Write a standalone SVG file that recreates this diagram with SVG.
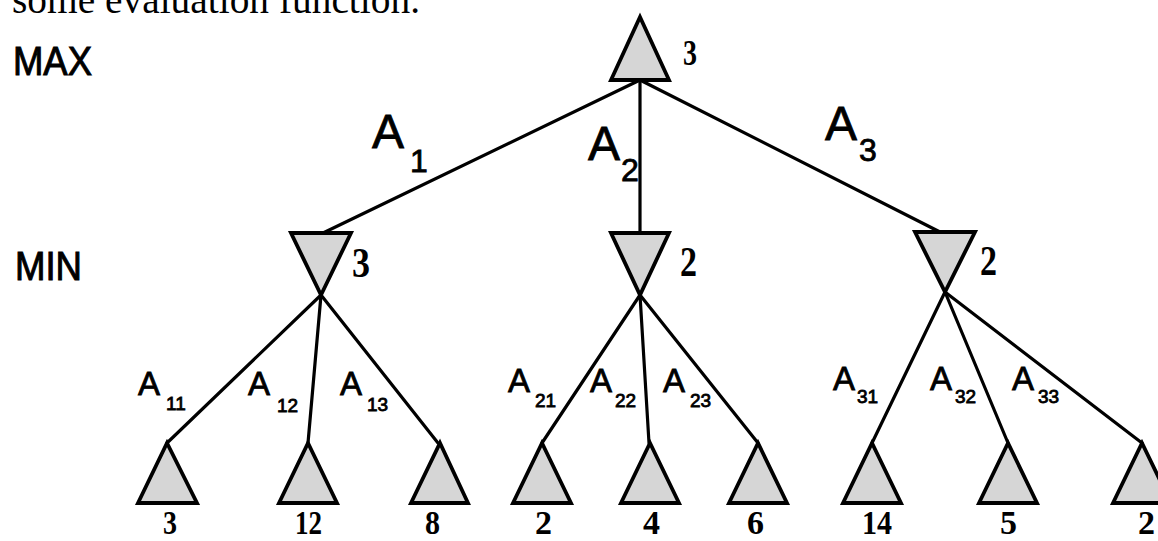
<svg xmlns="http://www.w3.org/2000/svg" width="1158" height="541" viewBox="0 0 1158 541">
<style>
.tri{fill:#d6d6d6;stroke:#000;stroke-width:3.8;stroke-linejoin:miter}
.edge{stroke:#000;stroke-width:3.2;fill:none;stroke-linecap:round}
.lvl{font-family:"Liberation Sans",Arial,sans-serif;font-size:40px;fill:#000;stroke:#000;stroke-width:1}
.val{font-family:"Liberation Serif","Times New Roman",serif;font-weight:bold;fill:#000}
.a{font-family:"Liberation Sans",Arial,sans-serif;fill:#000;stroke:#000;stroke-width:0.8}
.big{font-size:48px}
.bigsub{font-size:32px}
.sm{font-size:33px}
.smsub{font-size:19px}
.top{font-family:"Liberation Serif","Times New Roman",serif;font-size:39px;fill:#000}
</style>
<rect width="1158" height="541" fill="#fff"/>
<text class="top" x="12" y="13" textLength="408" lengthAdjust="spacingAndGlyphs">some evaluation function.</text>
<text class="lvl" x="13" y="75" textLength="79" lengthAdjust="spacingAndGlyphs">MAX</text>
<text class="lvl" x="15" y="280" textLength="67" lengthAdjust="spacingAndGlyphs">MIN</text>
<g id="connectors">
<line class="edge" x1="640" y1="80" x2="323" y2="233"/>
<line class="edge" x1="640" y1="80" x2="640" y2="233"/>
<line class="edge" x1="640" y1="80" x2="940" y2="232"/>
<line class="edge" x1="321" y1="295" x2="167" y2="443"/>
<line class="edge" x1="321" y1="295" x2="308" y2="443"/>
<line class="edge" x1="321" y1="295" x2="438" y2="443"/>
<line class="edge" x1="640" y1="295" x2="542" y2="443"/>
<line class="edge" x1="640" y1="295" x2="649" y2="443"/>
<line class="edge" x1="640" y1="295" x2="758" y2="443"/>
<line class="edge" x1="945" y1="292" x2="872" y2="443"/>
<line class="edge" x1="945" y1="292" x2="1008" y2="443"/>
<line class="edge" x1="945" y1="292" x2="1142" y2="443"/>
<text class="a big" x="372" y="148">A</text><text class="a bigsub" x="410" y="172">1</text>
<text class="a big" x="588" y="160">A</text><text class="a bigsub" x="621" y="181">2</text>
<text class="a big" x="825" y="140">A</text><text class="a bigsub" x="859" y="161">3</text>
<text class="a sm" x="138" y="395">A</text><text class="a smsub" x="166" y="410">11</text>
<text class="a sm" x="248" y="395">A</text><text class="a smsub" x="277" y="412">12</text>
<text class="a sm" x="340" y="395">A</text><text class="a smsub" x="367" y="411">13</text>
<text class="a sm" x="508" y="392">A</text><text class="a smsub" x="535" y="407">21</text>
<text class="a sm" x="590" y="392">A</text><text class="a smsub" x="615" y="407">22</text>
<text class="a sm" x="663" y="392">A</text><text class="a smsub" x="690" y="407">23</text>
<text class="a sm" x="833" y="390">A</text><text class="a smsub" x="857" y="403">31</text>
<text class="a sm" x="930" y="390">A</text><text class="a smsub" x="955" y="403">32</text>
<text class="a sm" x="1012" y="390">A</text><text class="a smsub" x="1038" y="403">33</text>
</g>
<g id="max-root">
<polygon class="tri" points="640,17 669,80 611,80"/>
<text class="val" x="683" y="65" font-size="36" textLength="14" lengthAdjust="spacingAndGlyphs">3</text>
</g>
<g id="min-1">
<polygon class="tri" points="291,233 351,233 321,295"/>
<text class="val" x="352" y="277" font-size="42" textLength="18" lengthAdjust="spacingAndGlyphs">3</text>
</g>
<g id="min-2">
<polygon class="tri" points="611,233 669,233 640,295"/>
<text class="val" x="680" y="276" font-size="42" textLength="17" lengthAdjust="spacingAndGlyphs">2</text>
</g>
<g id="min-3">
<polygon class="tri" points="915,232 975,232 945,292"/>
<text class="val" x="980" y="275" font-size="42" textLength="17" lengthAdjust="spacingAndGlyphs">2</text>
</g>
<g id="leaf-11"><polygon class="tri" points="167,443 197,503 138,503"/><text class="val" x="163" y="534" font-size="34" textLength="14" lengthAdjust="spacingAndGlyphs">3</text></g>
<g id="leaf-12"><polygon class="tri" points="308,443 337,503 279,503"/><text class="val" x="295" y="534" font-size="34" textLength="27" lengthAdjust="spacingAndGlyphs">12</text></g>
<g id="leaf-13"><polygon class="tri" points="440,443 468,503 411,503"/><text class="val" x="425" y="534" font-size="34" textLength="15" lengthAdjust="spacingAndGlyphs">8</text></g>
<g id="leaf-21"><polygon class="tri" points="542,443 571,503 513,503"/><text class="val" x="535" y="534" font-size="34" textLength="17" lengthAdjust="spacingAndGlyphs">2</text></g>
<g id="leaf-22"><polygon class="tri" points="650,443 679,503 621,503"/><text class="val" x="643" y="534" font-size="34" textLength="17" lengthAdjust="spacingAndGlyphs">4</text></g>
<g id="leaf-23"><polygon class="tri" points="758,443 787,503 729,503"/><text class="val" x="747" y="534" font-size="34" textLength="17" lengthAdjust="spacingAndGlyphs">6</text></g>
<g id="leaf-31"><polygon class="tri" points="872,443 901,503 843,503"/><text class="val" x="862" y="534" font-size="34" textLength="30" lengthAdjust="spacingAndGlyphs">14</text></g>
<g id="leaf-32"><polygon class="tri" points="1008,443 1037,503 979,503"/><text class="val" x="1000" y="534" font-size="34" textLength="17" lengthAdjust="spacingAndGlyphs">5</text></g>
<g id="leaf-33"><polygon class="tri" points="1142,443 1171,503 1113,503"/><text class="val" x="1138" y="534" font-size="34" textLength="17" lengthAdjust="spacingAndGlyphs">2</text></g>
</svg>
